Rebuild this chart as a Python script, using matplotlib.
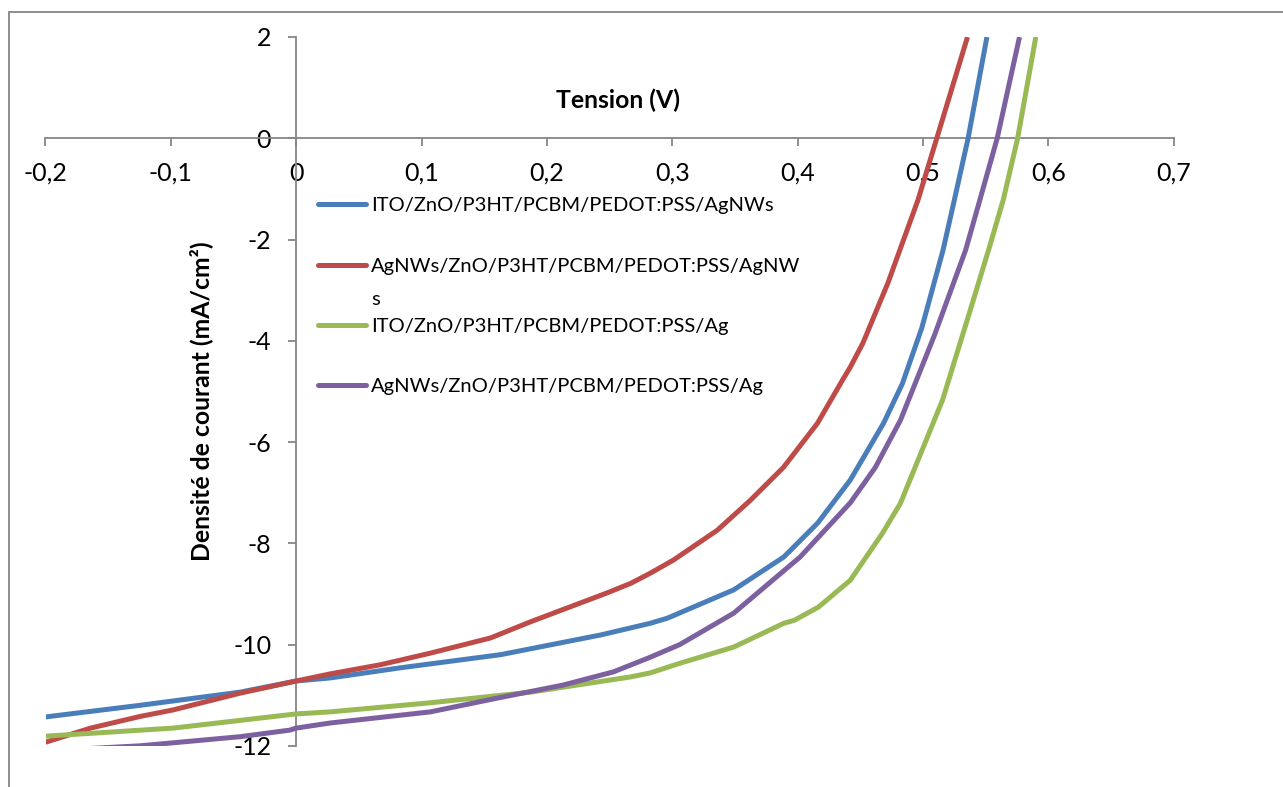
import matplotlib
matplotlib.use("Agg")
import matplotlib.pyplot as plt
from matplotlib.lines import Line2D
from matplotlib.patches import Rectangle

plt.rcParams['font.family'] = ['Lato', 'DejaVu Sans']

# ---- data ----
labels = [
    "ITO/ZnO/P3HT/PCBM/PEDOT:PSS/AgNWs",
    "AgNWs/ZnO/P3HT/PCBM/PEDOT:PSS/AgNW\ns",
    "ITO/ZnO/P3HT/PCBM/PEDOT:PSS/Ag",
    "AgNWs/ZnO/P3HT/PCBM/PEDOT:PSS/Ag",
]
colors = ["#4A7EBB", "#BE4B48", "#98B954", "#7D60A0"]

v_blue = [-0.2, -0.1245, -0.0447, 0.0, 0.027, 0.083, 0.163, 0.2, 0.243, 0.2825,
          0.296, 0.349, 0.389, 0.416, 0.442, 0.4685, 0.4835, 0.499, 0.516, 0.525,
          0.536, 0.551]
j_blue = [-11.43, -11.2, -10.94, -10.72, -10.66, -10.46, -10.2, -10.02, -9.81, -9.58,
          -9.48, -8.92, -8.27, -7.6, -6.75, -5.63, -4.85, -3.75, -2.21, -1.22,
          0.0, 2.0]

v_red = [-0.2, -0.164, -0.1245, -0.098, -0.0447, 0.0, 0.027, 0.067, 0.107, 0.155,
         0.187, 0.248, 0.267, 0.2825, 0.301, 0.336, 0.3623, 0.3887, 0.4158, 0.4357,
         0.442, 0.452, 0.472, 0.496, 0.511, 0.5355]
j_red = [-11.93, -11.65, -11.42, -11.29, -10.96, -10.72, -10.58, -10.4, -10.17, -9.87,
         -9.55, -8.98, -8.79, -8.59, -8.33, -7.74, -7.15, -6.5, -5.63, -4.78,
         -4.52, -4.05, -2.86, -1.22, 0.0, 2.0]

v_green = [-0.2, -0.098, 0.0, 0.027, 0.107, 0.187, 0.2666, 0.2825, 0.306, 0.349,
           0.3703, 0.389, 0.3975, 0.4166, 0.442, 0.4677, 0.482, 0.5156, 0.5395, 0.553,
           0.564, 0.5755, 0.59]
j_green = [-11.81, -11.65, -11.37, -11.33, -11.15, -10.94, -10.64, -10.56, -10.37, -10.05,
           -9.8, -9.58, -9.52, -9.26, -8.73, -7.8, -7.21, -5.17, -3.25, -2.15,
           -1.22, 0.0, 2.0]

v_purple = [-0.2, -0.1245, -0.0447, -0.005, 0.0, 0.027, 0.107, 0.160, 0.213, 0.253,
            0.2825, 0.306, 0.349, 0.402, 0.442, 0.462, 0.482, 0.509, 0.534, 0.545,
            0.5592, 0.577]
j_purple = [-12.1, -12.0, -11.82, -11.69, -11.65, -11.55, -11.33, -11.06, -10.8, -10.54,
            -10.25, -10.0, -9.38, -8.27, -7.2, -6.5, -5.57, -3.9, -2.21, -1.25,
            0.0, 2.0]

series = [(v_blue, j_blue), (v_red, j_red), (v_green, j_green), (v_purple, j_purple)]

x_ticks = [-0.2, -0.1, 0, 0.1, 0.2, 0.3, 0.4, 0.5, 0.6, 0.7]
x_ticklabels = ["-0,2", "-0,1", "0", "0,1", "0,2", "0,3", "0,4", "0,5", "0,6", "0,7"]
y_ticks = [2, 0, -2, -4, -6, -8, -10, -12]
y_ticklabels = ["2", "0", "-2", "-4", "-6", "-8", "-10", "-12"]

W, H = 1283, 787
fig = plt.figure(figsize=(W / 100, H / 100), dpi=100)

def fx(p):
    return p / W

def fy(p):
    return 1 - p / H

axis_gray = "#868686"

# figure frame
fig.patches.append(Rectangle((fx(9), -0.2), 2, fy(12) + 0.2, transform=fig.transFigure,
                             fill=False, edgecolor=axis_gray, lw=1.3, zorder=0))

left, right, top, bottom = 45.5, 1173.7, 37, 745.8
ax = fig.add_axes([fx(left), fy(bottom), fx(right - left), (bottom - top) / H])
ax.set_xlim(-0.2, 0.7)
ax.set_ylim(-12, 2)

for (v, j), c in zip(series, colors):
    ax.plot(v, j, color=c, lw=3.6, solid_capstyle='butt', solid_joinstyle='round', zorder=3)

for s in ['top', 'right']:
    ax.spines[s].set_visible(False)
ax.spines['left'].set_position(('data', 0))
ax.spines['bottom'].set_position(('data', 0))
for s in ['left', 'bottom']:
    ax.spines[s].set_color(axis_gray)
    ax.spines[s].set_linewidth(1.3)
    ax.spines[s].set_zorder(2)

ax.set_xticks(x_ticks)
ax.set_xticklabels(x_ticklabels)
ax.set_yticks(y_ticks)
ax.set_yticklabels(y_ticklabels)
ax.tick_params(axis='x', direction='out', length=6, width=1.3, color=axis_gray,
               labelsize=18, pad=11)
ax.tick_params(axis='y', direction='out', length=6, width=1.3, color=axis_gray,
               labelsize=18, pad=12)
ax.patch.set_visible(False)

# axis titles
fig.text(fx(618), fy(100), "Tension (V)", ha='center', va='center',
         fontsize=17.8, fontweight='bold')
fig.text(fx(201), fy(401), "Densité de courant (mA/cm²)", ha='center', va='center',
         rotation=90, fontsize=17.8, fontweight='bold')

# legend (drawn manually to match the wrapped entry)
row_y = [204, 265, 325, 385]
for lab, c, ry in zip(labels, colors, row_y):
    fig.lines.append(Line2D([fx(318), fx(366)], [fy(ry), fy(ry)], transform=fig.transFigure,
                            color=c, lw=3.6, solid_capstyle='round'))
    for i, part in enumerate(lab.split('\n')):
        fig.text(fx(371), fy(ry + 33 * i), part, ha='left', va='center_baseline',
                 fontsize=14.5)

fig.savefig("out.png", dpi=100)
